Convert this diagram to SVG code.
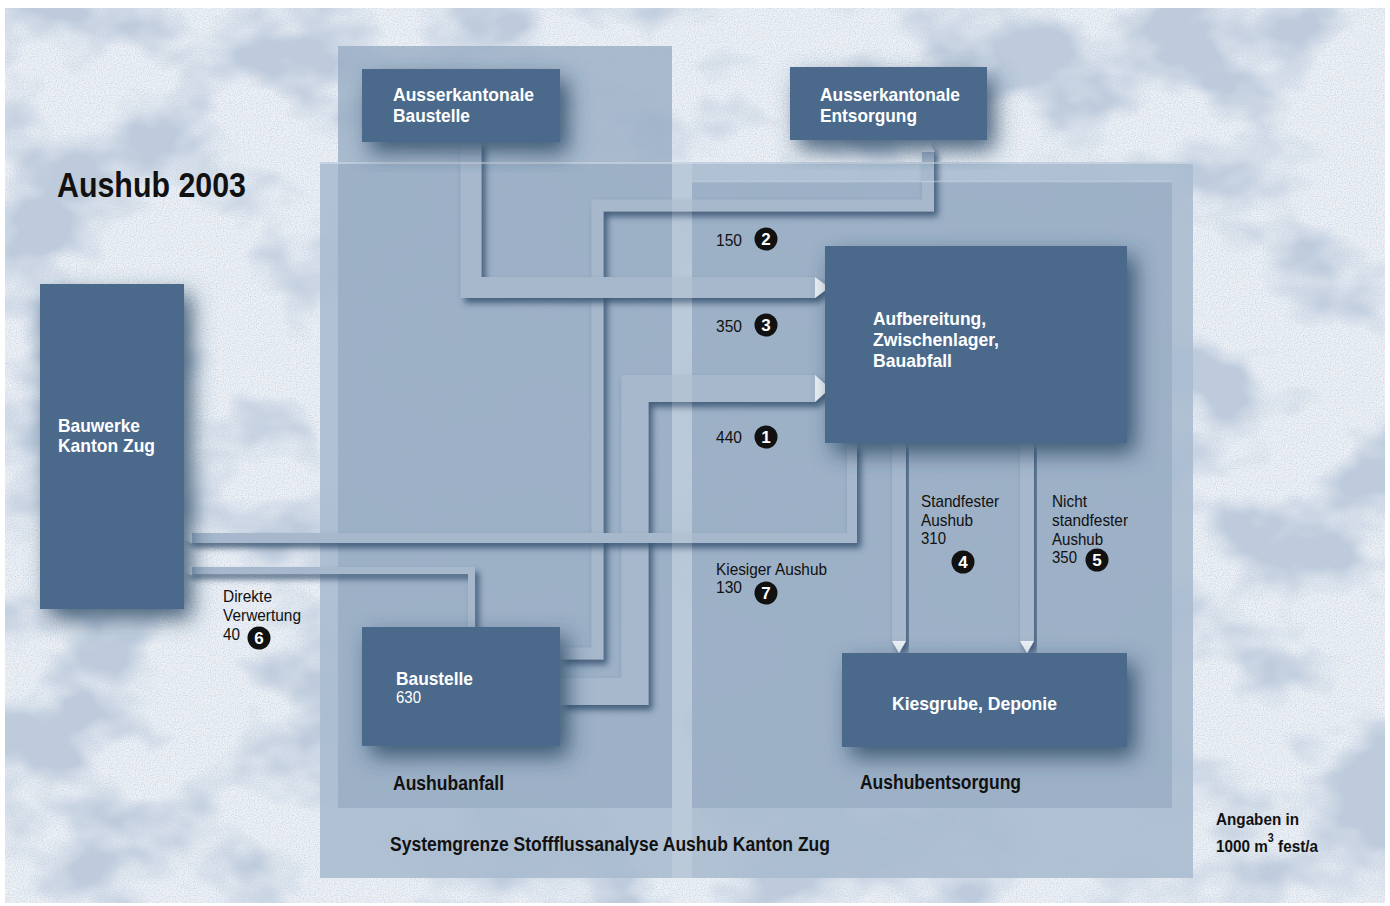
<svg xmlns="http://www.w3.org/2000/svg" width="1390" height="906" viewBox="0 0 1390 906">
<defs>
<style>
.t{font-family:"Liberation Sans",Arial,Helvetica,sans-serif}
.nt{font-weight:bold;font-size:19px;fill:#ffffff}
.nv{font-size:17px;fill:#ffffff}
.lb{font-size:17px;fill:#111111}
.rg{font-weight:bold;font-size:20px;fill:#111111}
.node{fill:#4b6b8b;filter:url(#nsh)}
.pipe{fill:none;stroke:#a7b8cc;stroke-linejoin:miter;stroke-linecap:butt}
.flow{filter:url(#psh)}
.ah{fill:#eef2f7}
.cn circle{fill:#111111}
.cn text{font-family:"Liberation Sans",Arial,sans-serif;font-weight:bold;font-size:17px;fill:#ffffff;text-anchor:middle}
.reg{fill:#97acc3;opacity:0.78}
</style>
<filter id="tex" x="0" y="0" width="1" height="1">
<feFlood flood-color="#eef2f7" result="base"/>
<feTurbulence type="fractalNoise" baseFrequency="0.007 0.01" numOctaves="4" seed="7" result="big"/>
<feColorMatrix in="big" type="matrix" values="0 0 0 0 0.50  0 0 0 0 0.59  0 0 0 0 0.71  4.5 0 0 0 -2.05" result="blobs"/>
<feTurbulence type="fractalNoise" baseFrequency="0.85" numOctaves="1" seed="2" result="fine"/>
<feColorMatrix in="fine" type="matrix" values="0 0 0 0 0.55  0 0 0 0 0.63  0 0 0 0 0.75  2 0 0 0 -0.8" result="grain"/>
<feMerge><feMergeNode in="base"/><feMergeNode in="blobs"/><feMergeNode in="grain"/></feMerge>
</filter>
<filter id="nsh" x="-30%" y="-30%" width="170%" height="170%">
<feDropShadow dx="8" dy="10" stdDeviation="11" flood-color="#2b4765" flood-opacity="0.85"/>
</filter>
<filter id="psh" x="-20%" y="-20%" width="140%" height="140%">
<feDropShadow dx="4" dy="5" stdDeviation="3" flood-color="#34516f" flood-opacity="0.85"/>
</filter>
</defs>

<rect x="0" y="0" width="1390" height="906" fill="#ffffff"/>
<rect x="5" y="8" width="1380" height="895" fill="#e0e7ee" filter="url(#tex)"/>

<g id="regions">
<rect id="systemgrenze" x="320" y="162" width="873" height="716" fill="#a9bbcf" opacity="0.88"/>
<rect id="aushubanfall" class="reg" x="338" y="46" width="334" height="762"/>
<rect id="aushubentsorgung" class="reg" x="692" y="181" width="480" height="627"/>
</g>

<g id="connectors">
<g id="flow2" class="flow"><path class="pipe" stroke-width="12" d="M560 653.5 H597.5 V205.5 H928 V152"/><polygon class="ah" points="921,152 928,141 935,152"/></g>
<g id="flow1" class="flow"><path class="pipe" stroke-width="27" d="M560 691.5 H635 V388.5 H815"/><polygon class="ah" points="815,375 830,388.5 815,402"/></g>
<g id="flow3" class="flow"><path class="pipe" stroke-width="21" d="M471 141 V287.5 H815"/><polygon class="ah" points="815,277 829,287.5 815,298"/></g>
<g id="flow7" class="flow"><path class="pipe" stroke-width="10" d="M852 443 V538 H192"/><polygon class="ah" points="192,532.5 183,538 192,543.5"/></g>
<g id="flow6" class="flow"><path class="pipe" stroke-width="7" d="M471.5 627 V570.5 H192"/><polygon class="ah" points="192,565.5 183,570.5 192,575.5"/></g>
<g id="flow4" class="flow"><path class="pipe" stroke-width="14" d="M899 443 V641"/><polygon class="ah" points="892,641 906,641 899,653"/></g>
<g id="flow5" class="flow"><path class="pipe" stroke-width="14" d="M1027 443 V641"/><polygon class="ah" points="1020,641 1034,641 1027,653"/></g>
</g>

<g id="region-edges">
<rect x="672" y="162" width="20" height="716" fill="#ffffff" opacity="0.14"/>
<line x1="320" y1="163" x2="1193" y2="163" stroke="#d3dde8" stroke-width="2" opacity="0.6"/>
<line x1="692" y1="181.5" x2="1172" y2="181.5" stroke="#d3dde8" stroke-width="1.5" opacity="0.5"/>
</g>

<g id="n_ausserk_baustelle">
<rect class="node" x="362" y="69" width="198" height="73"/>
<text class="t nt" x="393" y="101" textLength="141" lengthAdjust="spacingAndGlyphs">Ausserkantonale</text>
<text class="t nt" x="393" y="122" textLength="77" lengthAdjust="spacingAndGlyphs">Baustelle</text>
</g>
<g id="n_ausserk_entsorgung">
<rect class="node" x="790" y="67" width="197" height="73"/>
<text class="t nt" x="820" y="101" textLength="140" lengthAdjust="spacingAndGlyphs">Ausserkantonale</text>
<text class="t nt" x="820" y="122" textLength="97" lengthAdjust="spacingAndGlyphs">Entsorgung</text>
</g>
<g id="n_bauwerke">
<rect class="node" x="40" y="284" width="144" height="325"/>
<text class="t nt" x="58" y="432" textLength="82" lengthAdjust="spacingAndGlyphs">Bauwerke</text>
<text class="t nt" x="58" y="452" textLength="97" lengthAdjust="spacingAndGlyphs">Kanton Zug</text>
</g>
<g id="n_aufbereitung">
<rect class="node" x="825" y="246" width="302" height="197"/>
<text class="t nt" x="873" y="325" textLength="113" lengthAdjust="spacingAndGlyphs">Aufbereitung,</text>
<text class="t nt" x="873" y="346" textLength="126" lengthAdjust="spacingAndGlyphs">Zwischenlager,</text>
<text class="t nt" x="873" y="367" textLength="79" lengthAdjust="spacingAndGlyphs">Bauabfall</text>
</g>
<g id="n_baustelle">
<rect class="node" x="362" y="627" width="198" height="119"/>
<text class="t nt" x="396" y="685" textLength="77" lengthAdjust="spacingAndGlyphs">Baustelle</text>
<text class="t nv" x="396" y="703" textLength="25" lengthAdjust="spacingAndGlyphs">630</text>
</g>
<g id="n_kiesgrube">
<rect class="node" x="842" y="653" width="285" height="94"/>
<text class="t nt" x="892" y="710" textLength="165" lengthAdjust="spacingAndGlyphs">Kiesgrube, Deponie</text>
</g>

<g id="labels">
<text class="t" x="57" y="197" font-size="35" font-weight="bold" fill="#111" textLength="189" lengthAdjust="spacingAndGlyphs">Aushub 2003</text>
<text class="t lb" x="716" y="246" textLength="26" lengthAdjust="spacingAndGlyphs">150</text>
<text class="t lb" x="716" y="332" textLength="26" lengthAdjust="spacingAndGlyphs">350</text>
<text class="t lb" x="716" y="443" textLength="26" lengthAdjust="spacingAndGlyphs">440</text>
<text class="t lb" x="921" y="507" textLength="78" lengthAdjust="spacingAndGlyphs">Standfester</text>
<text class="t lb" x="921" y="526" textLength="52" lengthAdjust="spacingAndGlyphs">Aushub</text>
<text class="t lb" x="921" y="544" textLength="25" lengthAdjust="spacingAndGlyphs">310</text>
<text class="t lb" x="1052" y="507" textLength="35" lengthAdjust="spacingAndGlyphs">Nicht</text>
<text class="t lb" x="1052" y="526" textLength="76" lengthAdjust="spacingAndGlyphs">standfester</text>
<text class="t lb" x="1052" y="545" textLength="51" lengthAdjust="spacingAndGlyphs">Aushub</text>
<text class="t lb" x="1052" y="563" textLength="25" lengthAdjust="spacingAndGlyphs">350</text>
<text class="t lb" x="716" y="575" textLength="111" lengthAdjust="spacingAndGlyphs">Kiesiger Aushub</text>
<text class="t lb" x="716" y="593" textLength="26" lengthAdjust="spacingAndGlyphs">130</text>
<text class="t lb" x="223" y="602" textLength="49" lengthAdjust="spacingAndGlyphs">Direkte</text>
<text class="t lb" x="223" y="621" textLength="78" lengthAdjust="spacingAndGlyphs">Verwertung</text>
<text class="t lb" x="223" y="640" textLength="17" lengthAdjust="spacingAndGlyphs">40</text>
<text class="t rg" x="393" y="790" textLength="111" lengthAdjust="spacingAndGlyphs">Aushubanfall</text>
<text class="t rg" x="860" y="789" textLength="161" lengthAdjust="spacingAndGlyphs">Aushubentsorgung</text>
<text class="t rg" x="390" y="851" textLength="440" lengthAdjust="spacingAndGlyphs">Systemgrenze Stoffflussanalyse Aushub Kanton Zug</text>
<text class="t" x="1216" y="825" font-size="17" font-weight="bold" fill="#111" textLength="83" lengthAdjust="spacingAndGlyphs">Angaben in</text>
<text class="t" transform="translate(1216,852) scale(0.9,1)" font-size="17" font-weight="bold" fill="#111">1000 m<tspan dy="-10" font-size="12">3</tspan><tspan dy="10"> fest/a</tspan></text>
</g>

<g id="numbers" class="cn">
<g><circle cx="766" cy="239" r="11.5"/><text x="766" y="245">2</text></g>
<g><circle cx="766" cy="325" r="11.5"/><text x="766" y="331">3</text></g>
<g><circle cx="766" cy="437" r="11.5"/><text x="766" y="443">1</text></g>
<g><circle cx="963" cy="562" r="11.5"/><text x="963" y="568">4</text></g>
<g><circle cx="1097" cy="560" r="11.5"/><text x="1097" y="566">5</text></g>
<g><circle cx="259" cy="638" r="11.5"/><text x="259" y="644">6</text></g>
<g><circle cx="766" cy="593" r="11.5"/><text x="766" y="599">7</text></g>
</g>
</svg>
